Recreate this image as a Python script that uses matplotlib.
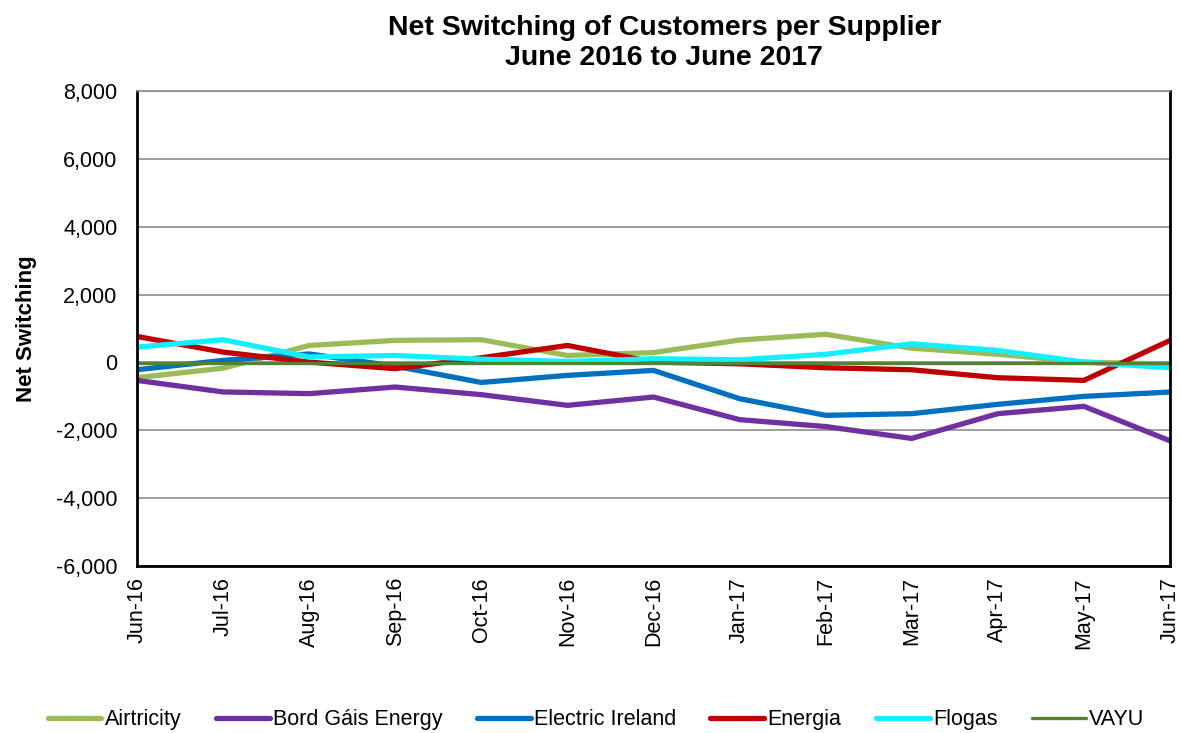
import matplotlib
matplotlib.use("Agg")
import matplotlib.pyplot as plt
from matplotlib.ticker import FuncFormatter

plt.rcParams['font.family'] = ['Liberation Sans', 'DejaVu Sans']

months = ["Jun-16", "Jul-16", "Aug-16", "Sep-16", "Oct-16", "Nov-16", "Dec-16",
          "Jan-17", "Feb-17", "Mar-17", "Apr-17", "May-17", "Jun-17"]

airtricity = [-450, -170, 500, 650, 670, 205, 290, 660, 830, 420, 240, 10, -50]
bord_gais = [-530, -870, -920, -725, -950, -1265, -1020, -1686, -1890, -2240, -1510, -1294, -2310]
electric_ireland = [-215, 60, 250, -110, -590, -382, -235, -1069, -1559, -1510, -1235, -1000, -873]
energia = [765, 305, 10, -185, 137, 500, 10, -40, -157, -216, -451, -529, 647]
flogas = [450, 670, 160, 205, 95, 30, 108, 78, 240, 549, 353, 10, -157]
vayu = [-10, -10, -10, -10, -10, -10, -10, -10, -10, -10, -10, -10, -10]

series = [
    ("Airtricity", airtricity, "#9BBB59", 3.8),
    ("Bord Gáis Energy", bord_gais, "#7030A0", 3.8),
    ("Electric Ireland", electric_ireland, "#0070C0", 3.8),
    ("Energia", energia, "#C00000", 3.8),
    ("Flogas", flogas, "#12F0FF", 3.8),
    ("VAYU", vayu, "#548235", 2.4),
]

fig = plt.figure(figsize=(11.8, 7.33), dpi=100)
ax = fig.add_axes([137/1180, 1-566/733, (1170-137)/1180, (566-91)/733])

x = list(range(len(months)))
for name, vals, color, lw in series:
    ax.plot(x, vals, color=color, lw=lw, label=name, solid_capstyle='round')

ax.set_xlim(0, len(months)-1)
ax.set_ylim(-6000, 8000)
ax.set_yticks(range(-6000, 8001, 2000))
ax.yaxis.set_major_formatter(FuncFormatter(lambda v, p: f"{int(v):,}"))
ax.set_xticks(x)
ax.set_xticklabels(months, rotation=90)
ax.tick_params(axis='both', length=0, labelsize=15.5)
ax.tick_params(axis='y', pad=14)
ax.tick_params(axis='x', pad=8)
ax.grid(axis='y', color='#8c8c8c', lw=1.2)
ax.set_axisbelow(True)
for s in ['left', 'bottom', 'right']:
    ax.spines[s].set_color('black')
    ax.spines[s].set_linewidth(2)
ax.spines['top'].set_color('#8c8c8c')
ax.spines['top'].set_linewidth(1.2)

ax.set_ylabel("Net Switching", fontsize=16, fontweight='bold', labelpad=14)
fig.text(0.563, 1 - 15/733, "Net Switching of Customers per Supplier\nJune 2016 to June 2017",
         ha='center', va='top', fontsize=20.5, fontweight='bold', linespacing=1.22)

leg = fig.legend(loc='center', bbox_to_anchor=(0.505, 0.018), ncol=6, frameon=False,
                 fontsize=15.5, handlelength=2.5, columnspacing=1.6, handletextpad=0.15)

fig.savefig("out.png", dpi=100)
